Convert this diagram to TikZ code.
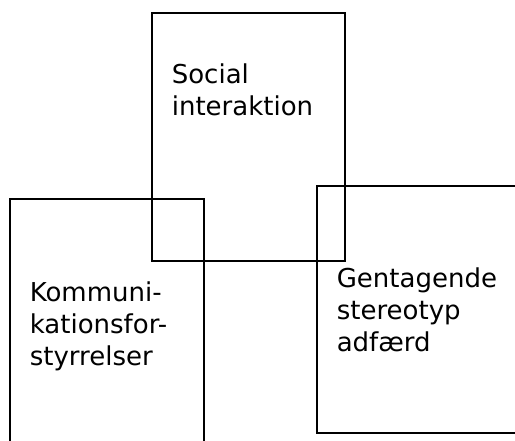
\documentclass[tikz,border=0pt]{standalone}
\usepackage{fontspec}
\setmainfont{DejaVu Sans}
\usetikzlibrary{positioning}

\begin{document}
\begin{tikzpicture}[
    x=1pt, y=-1pt,
    every node/.style={font=\fontsize{26}{32}\selectfont},
    area/.style={draw, line width=1.8pt, rectangle, inner sep=0pt},
    lbl/.style={inner sep=0pt, align=left},
  ]
  \useasboundingbox (0,0) rectangle (515,441);
  \clip (0,0) rectangle (515,441);

  % boxes
  \node[area, minimum width=193pt, minimum height=248pt] (social) at (248.5,137) {};
  \node[area, minimum width=194pt, minimum height=256pt] (komm) at (107,327) {};
  \node[area, minimum width=200pt, minimum height=247pt] (gent) at (417,309.5) {};

  % texts
  \node[lbl, below right=51pt and 20.5pt of social.north west] (socialtxt) {Social\\interaktion};
  \node[lbl, below right=83pt and 20.5pt of komm.north west] (kommtxt) {Kommuni-\\kationsfor-\\styrrelser};
  \node[lbl, below right=82.5pt and 20.5pt of gent.north west] (genttxt) {Gentagende\\stereotyp\\adfærd};
\end{tikzpicture}
\end{document}
